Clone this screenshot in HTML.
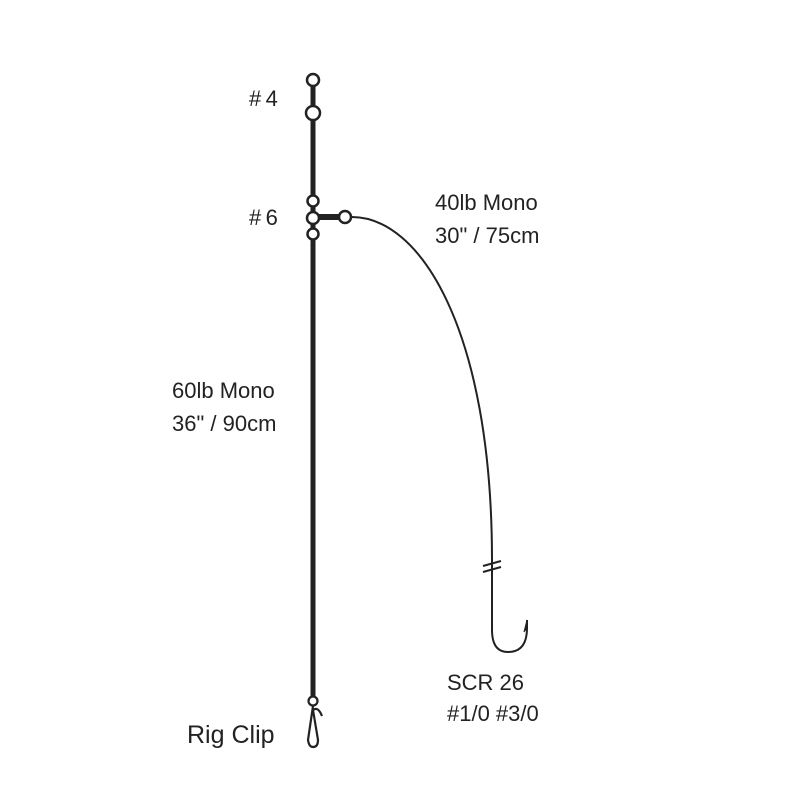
<!DOCTYPE html>
<html><head><style>
body{margin:0;background:#fff;}
svg{display:block}
text{font-family:"Liberation Sans",sans-serif;font-size:22px;fill:#222}
</style></head><body>
<svg width="800" height="800" viewBox="0 0 800 800">
<line x1="313" y1="80" x2="313" y2="696" stroke="#222" stroke-width="5"/>
<line x1="313" y1="217" x2="345" y2="217" stroke="#222" stroke-width="6"/>
<path d="M350 217 C 420 215, 492 330, 492 560 L492 630 Q492 652 508 652 Q527 652 527 628 L527 620" fill="none" stroke="#222" stroke-width="2"/>
<path d="M527 620 L524 632 L527 628 Z" fill="#222" stroke="#222" stroke-width="1"/>
<line x1="483" y1="566" x2="501" y2="561" stroke="#222" stroke-width="2"/>
<line x1="483" y1="572" x2="501" y2="567" stroke="#222" stroke-width="2"/>
<g fill="#fff" stroke="#222" stroke-width="2.5">
<circle cx="313" cy="80" r="6"/>
<circle cx="313" cy="113" r="7"/>
<circle cx="313" cy="201" r="5.5"/>
<circle cx="313" cy="218" r="6"/>
<circle cx="313" cy="234" r="5.5"/>
<circle cx="345" cy="217" r="6"/>
</g>
<circle cx="313" cy="701" r="4.5" fill="none" stroke="#222" stroke-width="2.2"/>
<path d="M313 706 L308 740 Q309 747 313 747 Q318 747 318 740 L313 710 Q318 706 322 716" fill="none" stroke="#222" stroke-width="2.2"/>
<text x="249" y="106">#&#8201;4</text>
<text x="249" y="225">#&#8201;6</text>
<text x="435" y="210">40lb Mono</text>
<text x="435" y="243">30" / 75cm</text>
<text x="172" y="398">60lb Mono</text>
<text x="172" y="431">36" / 90cm</text>
<text x="447" y="690">SCR 26</text>
<text x="447" y="721">#1/0 #3/0</text>
<text x="187" y="743" style="font-size:25px">Rig Clip</text>
</svg>
</body></html>
